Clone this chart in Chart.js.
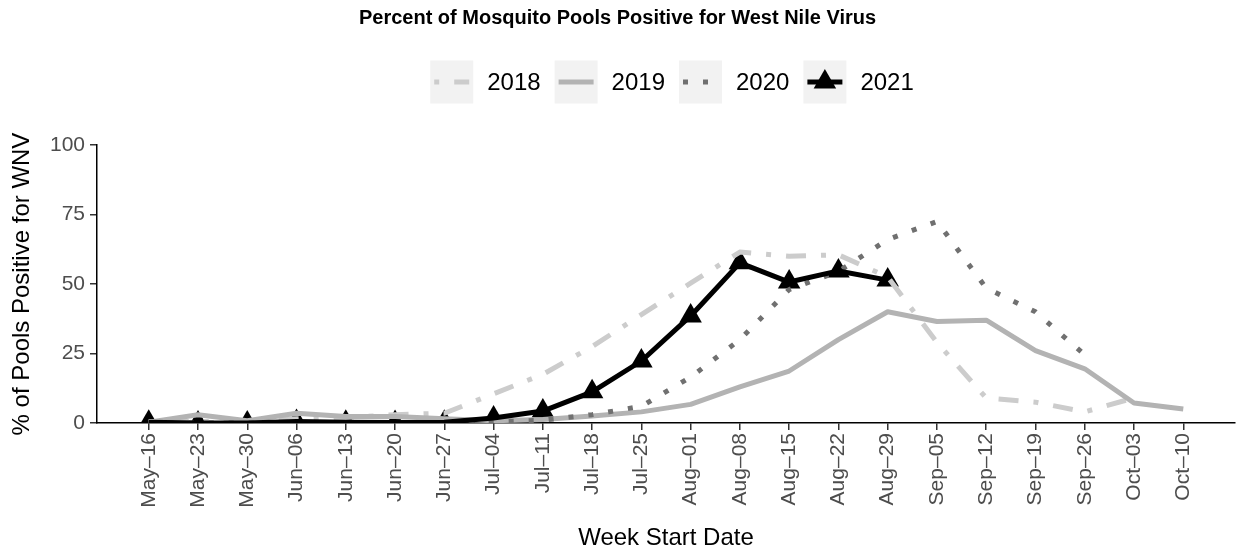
<!DOCTYPE html>
<html>
<head>
<meta charset="utf-8">
<script src="https://cdn.jsdelivr.net/npm/chart.js@4/dist/chart.umd.min.js"></script>
<style>
  html, body { margin: 0; padding: 0; background: #fff; }
</style>
</head>
<body>
<canvas id="chart" width="1238" height="550"></canvas>
<script>
// ================================
// DATA
// ================================
const weeks = ["May–16", "May–23", "May–30", "Jun–06", "Jun–13", "Jun–20", "Jun–27",
               "Jul–04", "Jul–11", "Jul–18", "Jul–25", "Aug–01", "Aug–08", "Aug–15",
               "Aug–22", "Aug–29", "Sep–05", "Sep–12", "Sep–19", "Sep–26", "Oct–03", "Oct–10"];

const y2018 = [0.5, 0.5, 0.5, 1.5, 2, 3, 3.5, 10.5, 17.5, 27.5, 39, 50.3, 61.5, 60, 60.5, 52.5, 29, 9, 7.5, 4, 9];
const y2019 = [0.3, 3, 0.8, 3.5, 2.3, 2.3, 1.5, 0.8, 1.3, 2.5, 4, 6.7, 13, 18.7, 30, 40, 36.5, 37, 26, 19.5, 7.2, 5];
const y2020 = [0, 0, 0, 0, 0, 0, 0, 0.3, 1, 3, 6, 16.5, 30, 48, 54.5, 66, 72.5, 48.5, 40, 24.5];
const y2021 = [0.3, 0, 0, 0.5, 0.3, 0.2, 0.3, 1.8, 4.3, 11.2, 22.3, 38.5, 57.6, 50.7, 54.7, 51.4];

const yTicks = [0, 25, 50, 75, 100];

const toPoints = arr => arr.map((v, i) => ({ x: i, y: v }));

Chart.defaults.font.family = "'Liberation Sans', Arial, Helvetica, sans-serif";

// ================================
// LEGEND (ggplot style keys)
// ================================
const yearLegend = {
    id: "yearLegend",
    afterDraw(chart) {
        const ctx = chart.ctx;
        const items = chart.data.datasets
            .filter(d => !d.markerOnly)
            .sort((a, b) => a.label.localeCompare(b.label));
        const key = 43, gapText = 14, gapItem = 14, cy = 82;

        ctx.save();
        ctx.font = "24px 'Liberation Sans', Arial, sans-serif";
        const widths = items.map(d => ctx.measureText(d.label).width);
        const total = widths.reduce((a, w) => a + key + gapText + w, 0) + gapItem * (items.length - 1);
        let x = 672 - total / 2;

        items.forEach((d, i) => {
            ctx.fillStyle = "#f2f2f2";
            ctx.fillRect(x, cy - key / 2, key, key);

            ctx.save();
            ctx.beginPath();
            ctx.rect(x, cy - key / 2, key, key);
            ctx.clip();
            ctx.strokeStyle = d.borderColor;
            ctx.lineWidth = d.borderWidth;
            ctx.lineCap = "butt";
            ctx.setLineDash(d.borderDash || []);
            ctx.beginPath();
            ctx.moveTo(x + 4, cy);
            ctx.lineTo(x + key - 4, cy);
            ctx.stroke();
            ctx.restore();

            if (d.legendMarker) {
                ctx.fillStyle = d.borderColor;
                Chart.helpers.drawPoint(ctx, { pointStyle: d.legendMarker, radius: 13, borderWidth: 0, rotation: 0 }, x + key / 2, cy);
            }

            ctx.fillStyle = "#000";
            ctx.textAlign = "left";
            ctx.textBaseline = "middle";
            ctx.fillText(d.label, x + key + gapText, cy + 1);
            x += key + gapText + widths[i] + gapItem;
        });
        ctx.restore();
    }
};

// ================================
// PLOT
// ================================
const lineBase = {
    pointRadius: 0,
    borderWidth: 5,
    borderCapStyle: "butt",
    borderJoinStyle: "round",
    tension: 0,
    fill: false,
    clip: 0
};

new Chart(document.getElementById("chart").getContext("2d"), {
    type: "line",
    data: {
        datasets: [
            { ...lineBase, label: "2021", data: toPoints(y2021), borderColor: "#000000", order: 0, legendMarker: "triangle" },
            { ...lineBase, label: "2020", data: toPoints(y2020), borderColor: "#707070", borderDash: [5, 15], order: 1 },
            { ...lineBase, label: "2019", data: toPoints(y2019), borderColor: "#b3b3b3", order: 2 },
            { ...lineBase, label: "2018", data: toPoints(y2018), borderColor: "#cccccc", borderDash: [5, 15, 20, 15], order: 3 },
            {
                label: "2021", markerOnly: true, data: toPoints(y2021), showLine: false,
                pointStyle: "triangle", pointRadius: 13, pointBorderWidth: 0,
                pointBackgroundColor: "#000000", borderColor: "#000000", order: 10, clip: 0
            }
        ]
    },
    options: {
        responsive: false,
        animation: false,
        layout: { autoPadding: false, padding: { left: 0, right: 3, top: 0, bottom: 0 } },
        plugins: {
            legend: { display: false },
            tooltip: { enabled: false },
            title: {
                display: true,
                text: "Percent of Mosquito Pools Positive for West Nile Virus",
                color: "#000",
                font: { size: 20, weight: "bold" },
                padding: { top: 6, bottom: 115 }
            }
        },
        scales: {
            x: {
                type: "linear",
                min: -1.05,
                max: weeks.length - 1 + 1.05,
                afterBuildTicks: s => { s.ticks = weeks.map((w, i) => ({ value: i })); },
                afterFit: s => { s.height = 127; },
                border: { display: true, color: "#000", width: 1.5 },
                grid: { drawOnChartArea: false, drawTicks: true, tickLength: 7, color: "#333", lineWidth: 1.5 },
                ticks: {
                    autoSkip: false, maxRotation: 90, minRotation: 90, padding: 3,
                    color: "#4d4d4d", font: { size: 21 },
                    callback: v => weeks[v]
                },
                title: {
                    display: true, text: "Week Start Date", color: "#000",
                    font: { size: 24, lineHeight: 1 }, padding: 0
                }
            },
            y: {
                min: 0,
                max: 100,
                afterBuildTicks: s => { s.ticks = yTicks.map(v => ({ value: v })); },
                afterFit: s => { s.width = 97; },
                border: { display: true, color: "#000", width: 1.5 },
                grid: { drawOnChartArea: false, drawTicks: true, tickLength: 7, color: "#333", lineWidth: 1.5 },
                ticks: { color: "#4d4d4d", font: { size: 21 }, padding: 5 },
                title: {
                    display: true, text: "% of Pools Positive for WNV", color: "#000",
                    font: { size: 24 }, padding: { top: 8, bottom: 0 }
                }
            }
        }
    },
    plugins: [yearLegend]
});
</script>
</body>
</html>
